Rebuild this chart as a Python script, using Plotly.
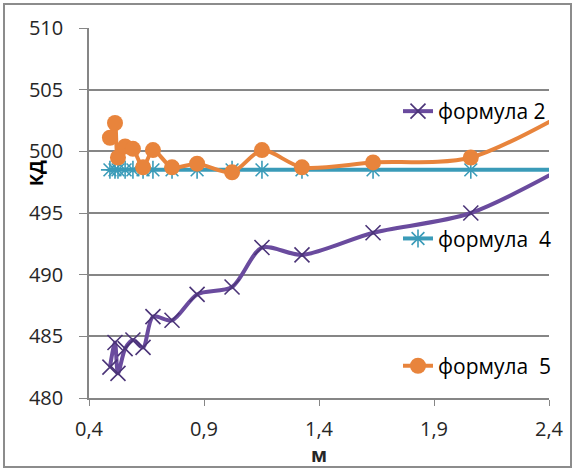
import plotly.graph_objects as go

# shared x values (м)
x_vals = [0.491, 0.513, 0.526, 0.557, 0.591, 0.635, 0.678, 0.761, 0.87, 1.022, 1.152, 1.326, 1.635, 2.06, 2.65]

f2 = [482.5, 484.5, 482.0, 484.0, 484.7, 484.1, 486.6, 486.3, 488.4, 489.0, 492.2, 491.6, 493.4, 495.0, 500.6]
f4 = [498.5, 498.5, 498.5, 498.5, 498.5, 498.5, 498.5, 498.5, 498.5, 498.5, 498.5, 498.5, 498.5, 498.5, 498.5]
f5 = [501.1, 502.3, 499.5, 500.4, 500.2, 498.7, 500.1, 498.7, 499.0, 498.3, 500.1, 498.7, 499.1, 499.5, 505.0]

names = ["формула 2", "формула  4", "формула  5"]
x_ticks = [0.4, 0.9, 1.4, 1.9, 2.4]
y_ticks = [480, 485, 490, 495, 500, 505, 510]

FONT = "Open Sans, Noto Sans, sans-serif"
purple = "#6A4B9E"
teal = "#3A9BB8"
orange = "#E8843C"

fig = go.Figure()
fig.add_trace(go.Scatter(
    x=x_vals, y=f2, name=names[0], mode="lines+markers", legendgroup="a",
    line=dict(color=purple, width=4, shape="spline", smoothing=0.8),
    marker=dict(symbol="x-thin", size=15, line=dict(color="#4B3478", width=1.6), color=purple),
))
fig.add_trace(go.Scatter(
    x=x_vals, y=f4, name=names[1], mode="lines+markers", legendgroup="b",
    line=dict(color=teal, width=4),
    marker=dict(symbol="asterisk-open", size=15, line=dict(color=teal, width=1.6), color=teal),
))
fig.add_trace(go.Scatter(
    x=x_vals, y=f5, name=names[2], mode="lines+markers", legendgroup="c",
    line=dict(color=orange, width=4, shape="spline", smoothing=0.8),
    marker=dict(symbol="circle", size=16, color=orange),
))

L, R, T, B = 89, 549, 28, 398
W, H = 575, 470
pw, ph = R - L, B - T

def px(xp):
    return (xp - L) / pw

def py(yp):
    return (B - yp) / ph

fig.update_layout(
    width=W, height=H,
    margin=dict(l=L, r=W - R, t=T, b=H - B),
    paper_bgcolor="white", plot_bgcolor="white",
    separators=", ",
    font=dict(family=FONT, size=20, color="#262626"),
    showlegend=True,
    legend=dict(
        x=px(398), y=py(91), xanchor="left", yanchor="top",
        bgcolor="rgba(0,0,0,0)", tracegroupgap=97,
        font=dict(family=FONT, size=21, color="#000000"),
        itemwidth=30,
    ),
    xaxis=dict(
        range=[0.4, 2.4], tickvals=x_ticks, tickformat=".1f",
        showgrid=False, zeroline=False,
        showline=True, linecolor="#868686", linewidth=1.5,
        ticks="outside", ticklen=6, tickcolor="#868686",
        ticklabelstandoff=6,
        title=dict(text="<b>м</b>", standoff=0, font=dict(size=19)),
    ),
    yaxis=dict(
        range=[480, 510], tickvals=y_ticks,
        showgrid=True, gridcolor="#868686", gridwidth=1.5, zeroline=False,
        showline=True, linecolor="#868686", linewidth=1.5,
        ticks="outside", ticklen=8, tickcolor="#868686",
        ticklabelstandoff=12,
    ),
    annotations=[dict(
        text="<b>КД</b>", textangle=-90, xref="paper", yref="paper",
        x=px(22), y=py(173), showarrow=False, font=dict(family=FONT, size=18, color="#000000"),
    )],
    shapes=[dict(
        type="rect", xref="paper", yref="paper",
        x0=px(4), x1=px(571), y0=py(467), y1=py(4),
        line=dict(color="#8C8C8C", width=2), fillcolor="rgba(0,0,0,0)", layer="below",
    )],
)

fig.write_html("out.html", config={"displayModeBar": False},
               post_script="document.body.style.margin='0';document.body.style.padding='0';")
